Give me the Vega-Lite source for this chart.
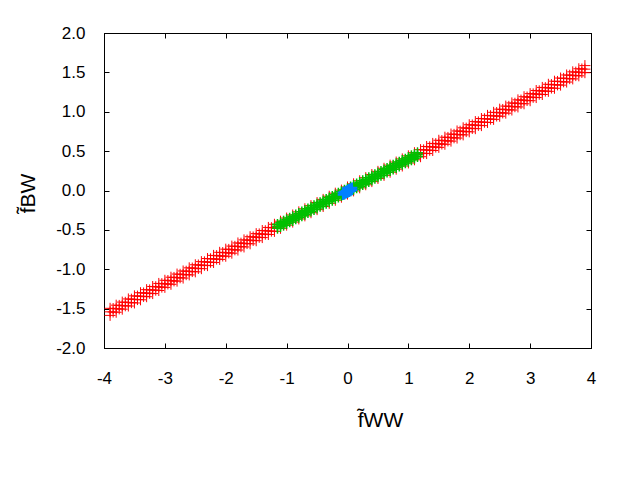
{
"$schema": "https://vega.github.io/schema/vega-lite/v6.json",
"width": 487, "height": 315,
"autosize": "none",
"padding": {"left": 104, "top": 33, "right": 49, "bottom": 132},
"background": "white",
"config": {
  "view": {"stroke": "black", "strokeWidth": 1},
  "font": "Liberation Sans",
  "axis": {"grid": false, "domainColor": "black", "tickColor": "black", "tickSize": -5, "labelFlush": false, "labelFont": "Liberation Sans", "labelFontSize": 17, "labelColor": "black", "titleFont": "Liberation Sans", "titleFontWeight": "normal", "titleColor": "black", "titleFontSize": 21}
},
"data": {"values": [
{"x":0,"y":-0.045,"g":"r"},{"x":0,"y":0.045,"g":"r"},
{"x":0.1,"y":-0.005,"g":"r"},{"x":0.1,"y":0.085,"g":"r"},
{"x":0.2,"y":0.034,"g":"r"},{"x":0.2,"y":0.124,"g":"r"},
{"x":0.3,"y":0.073,"g":"r"},{"x":0.3,"y":0.163,"g":"r"},
{"x":0.4,"y":0.113,"g":"r"},{"x":0.4,"y":0.203,"g":"r"},
{"x":0.5,"y":0.153,"g":"r"},{"x":0.5,"y":0.243,"g":"r"},
{"x":0.6,"y":0.192,"g":"r"},{"x":0.6,"y":0.282,"g":"r"},
{"x":0.7,"y":0.232,"g":"r"},{"x":0.7,"y":0.322,"g":"r"},
{"x":0.8,"y":0.271,"g":"r"},{"x":0.8,"y":0.361,"g":"r"},
{"x":0.9,"y":0.311,"g":"r"},{"x":0.9,"y":0.401,"g":"r"},
{"x":1.0,"y":0.350,"g":"r"},{"x":1.0,"y":0.440,"g":"r"},
{"x":1.1,"y":0.390,"g":"r"},{"x":1.1,"y":0.480,"g":"r"},{"x":1.1,"y":0.435,"g":"r"},
{"x":1.2,"y":0.429,"g":"r"},{"x":1.2,"y":0.519,"g":"r"},{"x":1.2,"y":0.474,"g":"r"},
{"x":1.3,"y":0.469,"g":"r"},{"x":1.3,"y":0.559,"g":"r"},{"x":1.3,"y":0.514,"g":"r"},
{"x":1.4,"y":0.508,"g":"r"},{"x":1.4,"y":0.598,"g":"r"},{"x":1.4,"y":0.553,"g":"r"},
{"x":1.5,"y":0.548,"g":"r"},{"x":1.5,"y":0.638,"g":"r"},{"x":1.5,"y":0.593,"g":"r"},
{"x":1.6,"y":0.587,"g":"r"},{"x":1.6,"y":0.677,"g":"r"},{"x":1.6,"y":0.632,"g":"r"},
{"x":1.7,"y":0.627,"g":"r"},{"x":1.7,"y":0.717,"g":"r"},{"x":1.7,"y":0.672,"g":"r"},
{"x":1.8,"y":0.666,"g":"r"},{"x":1.8,"y":0.756,"g":"r"},{"x":1.8,"y":0.711,"g":"r"},
{"x":1.9,"y":0.706,"g":"r"},{"x":1.9,"y":0.796,"g":"r"},{"x":1.9,"y":0.751,"g":"r"},
{"x":2.0,"y":0.745,"g":"r"},{"x":2.0,"y":0.835,"g":"r"},{"x":2.0,"y":0.790,"g":"r"},
{"x":2.1,"y":0.785,"g":"r"},{"x":2.1,"y":0.875,"g":"r"},{"x":2.1,"y":0.830,"g":"r"},
{"x":2.2,"y":0.824,"g":"r"},{"x":2.2,"y":0.914,"g":"r"},{"x":2.2,"y":0.869,"g":"r"},
{"x":2.3,"y":0.864,"g":"r"},{"x":2.3,"y":0.954,"g":"r"},{"x":2.3,"y":0.909,"g":"r"},
{"x":2.4,"y":0.903,"g":"r"},{"x":2.4,"y":0.993,"g":"r"},{"x":2.4,"y":0.948,"g":"r"},
{"x":2.5,"y":0.943,"g":"r"},{"x":2.5,"y":1.033,"g":"r"},{"x":2.5,"y":0.988,"g":"r"},
{"x":2.6,"y":0.982,"g":"r"},{"x":2.6,"y":1.072,"g":"r"},{"x":2.6,"y":1.027,"g":"r"},
{"x":2.7,"y":1.022,"g":"r"},{"x":2.7,"y":1.112,"g":"r"},{"x":2.7,"y":1.067,"g":"r"},
{"x":2.8,"y":1.061,"g":"r"},{"x":2.8,"y":1.151,"g":"r"},{"x":2.8,"y":1.106,"g":"r"},
{"x":2.9,"y":1.101,"g":"r"},{"x":2.9,"y":1.191,"g":"r"},{"x":2.9,"y":1.146,"g":"r"},
{"x":3.0,"y":1.140,"g":"r"},{"x":3.0,"y":1.230,"g":"r"},{"x":3.0,"y":1.185,"g":"r"},
{"x":3.1,"y":1.180,"g":"r"},{"x":3.1,"y":1.270,"g":"r"},{"x":3.1,"y":1.225,"g":"r"},
{"x":3.2,"y":1.219,"g":"r"},{"x":3.2,"y":1.309,"g":"r"},{"x":3.2,"y":1.264,"g":"r"},
{"x":3.3,"y":1.259,"g":"r"},{"x":3.3,"y":1.349,"g":"r"},{"x":3.3,"y":1.304,"g":"r"},
{"x":3.4,"y":1.298,"g":"r"},{"x":3.4,"y":1.388,"g":"r"},{"x":3.4,"y":1.343,"g":"r"},
{"x":3.5,"y":1.338,"g":"r"},{"x":3.5,"y":1.428,"g":"r"},{"x":3.5,"y":1.383,"g":"r"},
{"x":3.6,"y":1.377,"g":"r"},{"x":3.6,"y":1.467,"g":"r"},{"x":3.6,"y":1.422,"g":"r"},
{"x":3.7,"y":1.417,"g":"r"},{"x":3.7,"y":1.507,"g":"r"},{"x":3.7,"y":1.462,"g":"r"},
{"x":3.8,"y":1.456,"g":"r"},{"x":3.8,"y":1.546,"g":"r"},{"x":3.8,"y":1.501,"g":"r"},
{"x":3.9,"y":1.496,"g":"r"},{"x":3.9,"y":1.586,"g":"r"},{"x":3.9,"y":1.541,"g":"r"},
{"x":1.05,"y":0.393,"g":"r"},{"x":1.05,"y":0.437,"g":"r"},
{"x":1.15,"y":0.432,"g":"r"},{"x":1.15,"y":0.476,"g":"r"},
{"x":1.25,"y":0.472,"g":"r"},{"x":1.25,"y":0.516,"g":"r"},
{"x":1.35,"y":0.511,"g":"r"},{"x":1.35,"y":0.555,"g":"r"},
{"x":1.45,"y":0.551,"g":"r"},{"x":1.45,"y":0.595,"g":"r"},
{"x":1.55,"y":0.590,"g":"r"},{"x":1.55,"y":0.634,"g":"r"},
{"x":1.65,"y":0.630,"g":"r"},{"x":1.65,"y":0.674,"g":"r"},
{"x":1.75,"y":0.669,"g":"r"},{"x":1.75,"y":0.713,"g":"r"},
{"x":1.85,"y":0.709,"g":"r"},{"x":1.85,"y":0.753,"g":"r"},
{"x":1.95,"y":0.748,"g":"r"},{"x":1.95,"y":0.792,"g":"r"},
{"x":2.05,"y":0.788,"g":"r"},{"x":2.05,"y":0.832,"g":"r"},
{"x":2.15,"y":0.827,"g":"r"},{"x":2.15,"y":0.871,"g":"r"},
{"x":2.25,"y":0.867,"g":"r"},{"x":2.25,"y":0.911,"g":"r"},
{"x":2.35,"y":0.906,"g":"r"},{"x":2.35,"y":0.950,"g":"r"},
{"x":2.45,"y":0.946,"g":"r"},{"x":2.45,"y":0.990,"g":"r"},
{"x":2.55,"y":0.985,"g":"r"},{"x":2.55,"y":1.029,"g":"r"},
{"x":2.65,"y":1.025,"g":"r"},{"x":2.65,"y":1.069,"g":"r"},
{"x":2.75,"y":1.064,"g":"r"},{"x":2.75,"y":1.108,"g":"r"},
{"x":2.85,"y":1.104,"g":"r"},{"x":2.85,"y":1.148,"g":"r"},
{"x":2.95,"y":1.143,"g":"r"},{"x":2.95,"y":1.187,"g":"r"},
{"x":3.05,"y":1.183,"g":"r"},{"x":3.05,"y":1.227,"g":"r"},
{"x":3.15,"y":1.222,"g":"r"},{"x":3.15,"y":1.266,"g":"r"},
{"x":3.25,"y":1.262,"g":"r"},{"x":3.25,"y":1.306,"g":"r"},
{"x":3.35,"y":1.301,"g":"r"},{"x":3.35,"y":1.345,"g":"r"},
{"x":3.45,"y":1.341,"g":"r"},{"x":3.45,"y":1.385,"g":"r"},
{"x":3.55,"y":1.380,"g":"r"},{"x":3.55,"y":1.424,"g":"r"},
{"x":3.65,"y":1.420,"g":"r"},{"x":3.65,"y":1.464,"g":"r"},
{"x":3.75,"y":1.459,"g":"r"},{"x":3.75,"y":1.503,"g":"r"},
{"x":3.85,"y":1.499,"g":"r"},{"x":3.85,"y":1.543,"g":"r"},
{"x":-0.1,"y":0.005,"g":"r"},{"x":-0.1,"y":-0.085,"g":"r"},
{"x":-0.2,"y":-0.034,"g":"r"},{"x":-0.2,"y":-0.124,"g":"r"},
{"x":-0.3,"y":-0.073,"g":"r"},{"x":-0.3,"y":-0.163,"g":"r"},
{"x":-0.4,"y":-0.113,"g":"r"},{"x":-0.4,"y":-0.203,"g":"r"},
{"x":-0.5,"y":-0.153,"g":"r"},{"x":-0.5,"y":-0.243,"g":"r"},
{"x":-0.6,"y":-0.192,"g":"r"},{"x":-0.6,"y":-0.282,"g":"r"},
{"x":-0.7,"y":-0.232,"g":"r"},{"x":-0.7,"y":-0.322,"g":"r"},
{"x":-0.8,"y":-0.271,"g":"r"},{"x":-0.8,"y":-0.361,"g":"r"},
{"x":-0.9,"y":-0.311,"g":"r"},{"x":-0.9,"y":-0.401,"g":"r"},
{"x":-1.0,"y":-0.350,"g":"r"},{"x":-1.0,"y":-0.440,"g":"r"},
{"x":-1.1,"y":-0.390,"g":"r"},{"x":-1.1,"y":-0.480,"g":"r"},{"x":-1.1,"y":-0.435,"g":"r"},
{"x":-1.2,"y":-0.429,"g":"r"},{"x":-1.2,"y":-0.519,"g":"r"},{"x":-1.2,"y":-0.474,"g":"r"},
{"x":-1.3,"y":-0.469,"g":"r"},{"x":-1.3,"y":-0.559,"g":"r"},{"x":-1.3,"y":-0.514,"g":"r"},
{"x":-1.4,"y":-0.508,"g":"r"},{"x":-1.4,"y":-0.598,"g":"r"},{"x":-1.4,"y":-0.553,"g":"r"},
{"x":-1.5,"y":-0.548,"g":"r"},{"x":-1.5,"y":-0.638,"g":"r"},{"x":-1.5,"y":-0.593,"g":"r"},
{"x":-1.6,"y":-0.587,"g":"r"},{"x":-1.6,"y":-0.677,"g":"r"},{"x":-1.6,"y":-0.632,"g":"r"},
{"x":-1.7,"y":-0.627,"g":"r"},{"x":-1.7,"y":-0.717,"g":"r"},{"x":-1.7,"y":-0.672,"g":"r"},
{"x":-1.8,"y":-0.666,"g":"r"},{"x":-1.8,"y":-0.756,"g":"r"},{"x":-1.8,"y":-0.711,"g":"r"},
{"x":-1.9,"y":-0.706,"g":"r"},{"x":-1.9,"y":-0.796,"g":"r"},{"x":-1.9,"y":-0.751,"g":"r"},
{"x":-2.0,"y":-0.745,"g":"r"},{"x":-2.0,"y":-0.835,"g":"r"},{"x":-2.0,"y":-0.790,"g":"r"},
{"x":-2.1,"y":-0.785,"g":"r"},{"x":-2.1,"y":-0.875,"g":"r"},{"x":-2.1,"y":-0.830,"g":"r"},
{"x":-2.2,"y":-0.824,"g":"r"},{"x":-2.2,"y":-0.914,"g":"r"},{"x":-2.2,"y":-0.869,"g":"r"},
{"x":-2.3,"y":-0.864,"g":"r"},{"x":-2.3,"y":-0.954,"g":"r"},{"x":-2.3,"y":-0.909,"g":"r"},
{"x":-2.4,"y":-0.903,"g":"r"},{"x":-2.4,"y":-0.993,"g":"r"},{"x":-2.4,"y":-0.948,"g":"r"},
{"x":-2.5,"y":-0.943,"g":"r"},{"x":-2.5,"y":-1.033,"g":"r"},{"x":-2.5,"y":-0.988,"g":"r"},
{"x":-2.6,"y":-0.982,"g":"r"},{"x":-2.6,"y":-1.072,"g":"r"},{"x":-2.6,"y":-1.027,"g":"r"},
{"x":-2.7,"y":-1.022,"g":"r"},{"x":-2.7,"y":-1.112,"g":"r"},{"x":-2.7,"y":-1.067,"g":"r"},
{"x":-2.8,"y":-1.061,"g":"r"},{"x":-2.8,"y":-1.151,"g":"r"},{"x":-2.8,"y":-1.106,"g":"r"},
{"x":-2.9,"y":-1.101,"g":"r"},{"x":-2.9,"y":-1.191,"g":"r"},{"x":-2.9,"y":-1.146,"g":"r"},
{"x":-3.0,"y":-1.140,"g":"r"},{"x":-3.0,"y":-1.230,"g":"r"},{"x":-3.0,"y":-1.185,"g":"r"},
{"x":-3.1,"y":-1.180,"g":"r"},{"x":-3.1,"y":-1.270,"g":"r"},{"x":-3.1,"y":-1.225,"g":"r"},
{"x":-3.2,"y":-1.219,"g":"r"},{"x":-3.2,"y":-1.309,"g":"r"},{"x":-3.2,"y":-1.264,"g":"r"},
{"x":-3.3,"y":-1.259,"g":"r"},{"x":-3.3,"y":-1.349,"g":"r"},{"x":-3.3,"y":-1.304,"g":"r"},
{"x":-3.4,"y":-1.298,"g":"r"},{"x":-3.4,"y":-1.388,"g":"r"},{"x":-3.4,"y":-1.343,"g":"r"},
{"x":-3.5,"y":-1.338,"g":"r"},{"x":-3.5,"y":-1.428,"g":"r"},{"x":-3.5,"y":-1.383,"g":"r"},
{"x":-3.6,"y":-1.377,"g":"r"},{"x":-3.6,"y":-1.467,"g":"r"},{"x":-3.6,"y":-1.422,"g":"r"},
{"x":-3.7,"y":-1.417,"g":"r"},{"x":-3.7,"y":-1.507,"g":"r"},{"x":-3.7,"y":-1.462,"g":"r"},
{"x":-3.8,"y":-1.456,"g":"r"},{"x":-3.8,"y":-1.546,"g":"r"},{"x":-3.8,"y":-1.501,"g":"r"},
{"x":-3.9,"y":-1.496,"g":"r"},{"x":-3.9,"y":-1.586,"g":"r"},{"x":-3.9,"y":-1.541,"g":"r"},
{"x":-1.05,"y":-0.393,"g":"r"},{"x":-1.05,"y":-0.437,"g":"r"},
{"x":-1.15,"y":-0.432,"g":"r"},{"x":-1.15,"y":-0.476,"g":"r"},
{"x":-1.25,"y":-0.472,"g":"r"},{"x":-1.25,"y":-0.516,"g":"r"},
{"x":-1.35,"y":-0.511,"g":"r"},{"x":-1.35,"y":-0.555,"g":"r"},
{"x":-1.45,"y":-0.551,"g":"r"},{"x":-1.45,"y":-0.595,"g":"r"},
{"x":-1.55,"y":-0.590,"g":"r"},{"x":-1.55,"y":-0.634,"g":"r"},
{"x":-1.65,"y":-0.630,"g":"r"},{"x":-1.65,"y":-0.674,"g":"r"},
{"x":-1.75,"y":-0.669,"g":"r"},{"x":-1.75,"y":-0.713,"g":"r"},
{"x":-1.85,"y":-0.709,"g":"r"},{"x":-1.85,"y":-0.753,"g":"r"},
{"x":-1.95,"y":-0.748,"g":"r"},{"x":-1.95,"y":-0.792,"g":"r"},
{"x":-2.05,"y":-0.788,"g":"r"},{"x":-2.05,"y":-0.832,"g":"r"},
{"x":-2.15,"y":-0.827,"g":"r"},{"x":-2.15,"y":-0.871,"g":"r"},
{"x":-2.25,"y":-0.867,"g":"r"},{"x":-2.25,"y":-0.911,"g":"r"},
{"x":-2.35,"y":-0.906,"g":"r"},{"x":-2.35,"y":-0.950,"g":"r"},
{"x":-2.45,"y":-0.946,"g":"r"},{"x":-2.45,"y":-0.990,"g":"r"},
{"x":-2.55,"y":-0.985,"g":"r"},{"x":-2.55,"y":-1.029,"g":"r"},
{"x":-2.65,"y":-1.025,"g":"r"},{"x":-2.65,"y":-1.069,"g":"r"},
{"x":-2.75,"y":-1.064,"g":"r"},{"x":-2.75,"y":-1.108,"g":"r"},
{"x":-2.85,"y":-1.104,"g":"r"},{"x":-2.85,"y":-1.148,"g":"r"},
{"x":-2.95,"y":-1.143,"g":"r"},{"x":-2.95,"y":-1.187,"g":"r"},
{"x":-3.05,"y":-1.183,"g":"r"},{"x":-3.05,"y":-1.227,"g":"r"},
{"x":-3.15,"y":-1.222,"g":"r"},{"x":-3.15,"y":-1.266,"g":"r"},
{"x":-3.25,"y":-1.262,"g":"r"},{"x":-3.25,"y":-1.306,"g":"r"},
{"x":-3.35,"y":-1.301,"g":"r"},{"x":-3.35,"y":-1.345,"g":"r"},
{"x":-3.45,"y":-1.341,"g":"r"},{"x":-3.45,"y":-1.385,"g":"r"},
{"x":-3.55,"y":-1.380,"g":"r"},{"x":-3.55,"y":-1.424,"g":"r"},
{"x":-3.65,"y":-1.420,"g":"r"},{"x":-3.65,"y":-1.464,"g":"r"},
{"x":-3.75,"y":-1.459,"g":"r"},{"x":-3.75,"y":-1.503,"g":"r"},
{"x":-3.85,"y":-1.499,"g":"r"},{"x":-3.85,"y":-1.543,"g":"r"},
{"x":0,"y":-0.025,"g":"g"},{"x":0,"y":0,"g":"g"},{"x":0,"y":0.025,"g":"g"},
{"x":0.05,"y":-0.005,"g":"g"},{"x":0.05,"y":0.020,"g":"g"},{"x":0.05,"y":0.045,"g":"g"},
{"x":0.10,"y":0.015,"g":"g"},{"x":0.10,"y":0.040,"g":"g"},{"x":0.10,"y":0.065,"g":"g"},
{"x":0.15,"y":0.034,"g":"g"},{"x":0.15,"y":0.059,"g":"g"},{"x":0.15,"y":0.084,"g":"g"},
{"x":0.20,"y":0.054,"g":"g"},{"x":0.20,"y":0.079,"g":"g"},{"x":0.20,"y":0.104,"g":"g"},
{"x":0.25,"y":0.074,"g":"g"},{"x":0.25,"y":0.099,"g":"g"},{"x":0.25,"y":0.124,"g":"g"},
{"x":0.30,"y":0.093,"g":"g"},{"x":0.30,"y":0.118,"g":"g"},{"x":0.30,"y":0.143,"g":"g"},
{"x":0.35,"y":0.113,"g":"g"},{"x":0.35,"y":0.138,"g":"g"},{"x":0.35,"y":0.163,"g":"g"},
{"x":0.40,"y":0.133,"g":"g"},{"x":0.40,"y":0.158,"g":"g"},{"x":0.40,"y":0.183,"g":"g"},
{"x":0.45,"y":0.153,"g":"g"},{"x":0.45,"y":0.178,"g":"g"},{"x":0.45,"y":0.203,"g":"g"},
{"x":0.50,"y":0.173,"g":"g"},{"x":0.50,"y":0.198,"g":"g"},{"x":0.50,"y":0.223,"g":"g"},
{"x":0.55,"y":0.192,"g":"g"},{"x":0.55,"y":0.217,"g":"g"},{"x":0.55,"y":0.242,"g":"g"},
{"x":0.60,"y":0.212,"g":"g"},{"x":0.60,"y":0.237,"g":"g"},{"x":0.60,"y":0.262,"g":"g"},
{"x":0.65,"y":0.232,"g":"g"},{"x":0.65,"y":0.257,"g":"g"},{"x":0.65,"y":0.282,"g":"g"},
{"x":0.70,"y":0.252,"g":"g"},{"x":0.70,"y":0.277,"g":"g"},{"x":0.70,"y":0.302,"g":"g"},
{"x":0.75,"y":0.271,"g":"g"},{"x":0.75,"y":0.296,"g":"g"},{"x":0.75,"y":0.321,"g":"g"},
{"x":0.80,"y":0.291,"g":"g"},{"x":0.80,"y":0.316,"g":"g"},{"x":0.80,"y":0.341,"g":"g"},
{"x":0.85,"y":0.311,"g":"g"},{"x":0.85,"y":0.336,"g":"g"},{"x":0.85,"y":0.361,"g":"g"},
{"x":0.90,"y":0.331,"g":"g"},{"x":0.90,"y":0.356,"g":"g"},{"x":0.90,"y":0.381,"g":"g"},
{"x":0.95,"y":0.350,"g":"g"},{"x":0.95,"y":0.375,"g":"g"},{"x":0.95,"y":0.400,"g":"g"},
{"x":1.00,"y":0.370,"g":"g"},{"x":1.00,"y":0.395,"g":"g"},{"x":1.00,"y":0.420,"g":"g"},
{"x":1.05,"y":0.390,"g":"g"},{"x":1.05,"y":0.415,"g":"g"},{"x":1.05,"y":0.440,"g":"g"},
{"x":1.10,"y":0.410,"g":"g"},{"x":1.10,"y":0.435,"g":"g"},{"x":1.10,"y":0.460,"g":"g"},
{"x":1.15,"y":0.429,"g":"g"},{"x":1.15,"y":0.454,"g":"g"},{"x":1.15,"y":0.479,"g":"g"},
{"x":-0.05,"y":0.005,"g":"g"},{"x":-0.05,"y":-0.020,"g":"g"},{"x":-0.05,"y":-0.045,"g":"g"},
{"x":-0.10,"y":-0.015,"g":"g"},{"x":-0.10,"y":-0.040,"g":"g"},{"x":-0.10,"y":-0.065,"g":"g"},
{"x":-0.15,"y":-0.034,"g":"g"},{"x":-0.15,"y":-0.059,"g":"g"},{"x":-0.15,"y":-0.084,"g":"g"},
{"x":-0.20,"y":-0.054,"g":"g"},{"x":-0.20,"y":-0.079,"g":"g"},{"x":-0.20,"y":-0.104,"g":"g"},
{"x":-0.25,"y":-0.074,"g":"g"},{"x":-0.25,"y":-0.099,"g":"g"},{"x":-0.25,"y":-0.124,"g":"g"},
{"x":-0.30,"y":-0.093,"g":"g"},{"x":-0.30,"y":-0.118,"g":"g"},{"x":-0.30,"y":-0.143,"g":"g"},
{"x":-0.35,"y":-0.113,"g":"g"},{"x":-0.35,"y":-0.138,"g":"g"},{"x":-0.35,"y":-0.163,"g":"g"},
{"x":-0.40,"y":-0.133,"g":"g"},{"x":-0.40,"y":-0.158,"g":"g"},{"x":-0.40,"y":-0.183,"g":"g"},
{"x":-0.45,"y":-0.153,"g":"g"},{"x":-0.45,"y":-0.178,"g":"g"},{"x":-0.45,"y":-0.203,"g":"g"},
{"x":-0.50,"y":-0.173,"g":"g"},{"x":-0.50,"y":-0.198,"g":"g"},{"x":-0.50,"y":-0.223,"g":"g"},
{"x":-0.55,"y":-0.192,"g":"g"},{"x":-0.55,"y":-0.217,"g":"g"},{"x":-0.55,"y":-0.242,"g":"g"},
{"x":-0.60,"y":-0.212,"g":"g"},{"x":-0.60,"y":-0.237,"g":"g"},{"x":-0.60,"y":-0.262,"g":"g"},
{"x":-0.65,"y":-0.232,"g":"g"},{"x":-0.65,"y":-0.257,"g":"g"},{"x":-0.65,"y":-0.282,"g":"g"},
{"x":-0.70,"y":-0.252,"g":"g"},{"x":-0.70,"y":-0.277,"g":"g"},{"x":-0.70,"y":-0.302,"g":"g"},
{"x":-0.75,"y":-0.271,"g":"g"},{"x":-0.75,"y":-0.296,"g":"g"},{"x":-0.75,"y":-0.321,"g":"g"},
{"x":-0.80,"y":-0.291,"g":"g"},{"x":-0.80,"y":-0.316,"g":"g"},{"x":-0.80,"y":-0.341,"g":"g"},
{"x":-0.85,"y":-0.311,"g":"g"},{"x":-0.85,"y":-0.336,"g":"g"},{"x":-0.85,"y":-0.361,"g":"g"},
{"x":-0.90,"y":-0.331,"g":"g"},{"x":-0.90,"y":-0.356,"g":"g"},{"x":-0.90,"y":-0.381,"g":"g"},
{"x":-0.95,"y":-0.350,"g":"g"},{"x":-0.95,"y":-0.375,"g":"g"},{"x":-0.95,"y":-0.400,"g":"g"},
{"x":-1.00,"y":-0.370,"g":"g"},{"x":-1.00,"y":-0.395,"g":"g"},{"x":-1.00,"y":-0.420,"g":"g"},
{"x":-1.05,"y":-0.390,"g":"g"},{"x":-1.05,"y":-0.415,"g":"g"},{"x":-1.05,"y":-0.440,"g":"g"},
{"x":-1.10,"y":-0.410,"g":"g"},{"x":-1.10,"y":-0.435,"g":"g"},{"x":-1.10,"y":-0.460,"g":"g"},
{"x":-1.15,"y":-0.429,"g":"g"},{"x":-1.15,"y":-0.454,"g":"g"},{"x":-1.15,"y":-0.479,"g":"g"},
{"x":-0.075,"y":-0.055,"g":"b"},{"x":-0.075,"y":-0.025,"g":"b"},
{"x":-0.05,"y":-0.045,"g":"b"},{"x":-0.05,"y":-0.015,"g":"b"},
{"x":-0.025,"y":-0.035,"g":"b"},{"x":-0.025,"y":-0.005,"g":"b"},
{"x":0,"y":-0.025,"g":"b"},{"x":0,"y":0.005,"g":"b"},{"x":0,"y":-0.010,"g":"b"},
{"x":0.025,"y":-0.015,"g":"b"},{"x":0.025,"y":0.015,"g":"b"},
{"x":0.05,"y":-0.005,"g":"b"},{"x":0.05,"y":0.025,"g":"b"},
{"x":0.075,"y":0.005,"g":"b"},{"x":0.075,"y":0.035,"g":"b"},
{"x":-0.04,"y":-0.030,"g":"b"},{"x":0.04,"y":0.010,"g":"b"}
]},
"layer": [
  {
    "mark": {"type": "point", "filled": false, "shape": "M-1,0L1,0M0,-1L0,1", "opacity": 1},
    "encoding": {
      "x": {"field": "x", "type": "quantitative",
            "scale": {"domain": [-4, 4], "nice": false, "zero": false},
            "axis": {"orient": "bottom", "values": [-4,-3,-2,-1,0,1,2,3,4], "domain": true,
                     "labelExpr": "datum.value < 0 ? '-' + format(-datum.value, 'd') : format(datum.value, 'd')",
                     "labelPadding": 27,
                     "title": "f\u0303WW", "titleX": 276, "titleY": 78, "titleAlign": "center", "titleBaseline": "alphabetic", "titleAnchor": null}},
      "y": {"field": "y", "type": "quantitative",
            "scale": {"domain": [-2, 2], "nice": false, "zero": false},
            "axis": {"orient": "left", "values": [-2,-1.5,-1,-0.5,0,0.5,1,1.5,2], "domain": true,
                     "labelExpr": "datum.value < 0 ? '-' + format(-datum.value, '.1f') : format(datum.value, '.1f')",
                     "labelPadding": 24,
                     "title": "f\u0303BW", "titleAngle": 270, "titleX": -70, "titleY": 160, "titleAlign": "center", "titleBaseline": "alphabetic", "titleAnchor": null}},
      "color": {"field": "g", "type": "nominal",
                "scale": {"domain": ["r","g","b"], "range": ["#ff0000","#00c000","#0080ff"]}, "legend": null},
      "size": {"field": "g", "type": "ordinal",
               "scale": {"domain": ["r","g","b"], "range": [121, 110, 144]}, "legend": null},
      "strokeWidth": {"field": "g", "type": "ordinal",
                      "scale": {"domain": ["r","g","b"], "range": [1, 2, 2.5]}, "legend": null}
    }
  },
  {
    "data": {"values": [{}]},
    "mark": {"type": "point", "opacity": 0},
    "encoding": {
      "x": {"datum": 0, "type": "quantitative", "axis": {"orient": "top", "values": [-4,-3,-2,-1,0,1,2,3,4], "labels": false, "title": null}},
      "y": {"datum": 0, "type": "quantitative", "axis": {"orient": "right", "values": [-2,-1.5,-1,-0.5,0,0.5,1,1.5,2], "labels": false, "title": null}}
    }
  }
],
"resolve": {"axis": {"x": "independent", "y": "independent"}}
}
